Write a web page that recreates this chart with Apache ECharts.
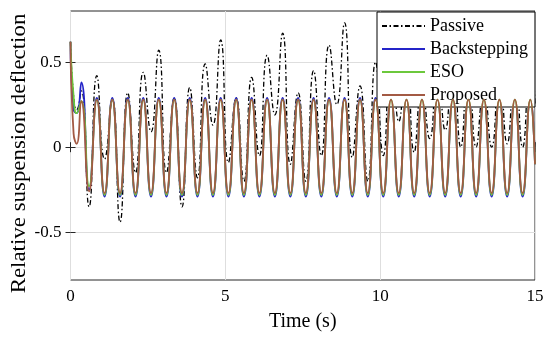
<!DOCTYPE html>
<html>
<head>
<meta charset="utf-8">
<script src="https://cdn.jsdelivr.net/npm/echarts@6/dist/echarts.min.js"></script>
<style>
html,body{margin:0;padding:0;background:#fff;}
#chart{width:550px;height:345px;}
</style>
</head>
<body>
<div id="chart"></div>
<script>
// time (s)
const time = [0, 0.1, 0.2,
  0.35, 0.6, 0.85, 1.1, 1.35, 1.6, 1.85, 2.1, 2.35, 2.6,
  2.85, 3.1, 3.35, 3.6, 3.85, 4.1, 4.35, 4.6, 4.85, 5.1,
  5.35, 5.6, 5.85, 6.1, 6.35, 6.6, 6.85, 7.1, 7.35, 7.6,
  7.85, 8.1, 8.35, 8.6, 8.85, 9.1, 9.35, 9.6, 9.85, 10.1,
  10.35, 10.6, 10.85, 11.1, 11.35, 11.6, 11.85, 12.1, 12.35, 12.6,
  12.85, 13.1, 13.35, 13.6, 13.85, 14.1, 14.35, 14.6, 14.85,
  15];
const passive = [0.62, 0.3, 0.22,
  0.33, -0.35, 0.42, -0.07, 0.28, -0.44, 0.32, -0.15, 0.44, 0.09,
  0.57, -0.15, 0.29, -0.35, 0.35, -0.18, 0.49, 0.13, 0.63, -0.09,
  0.29, -0.2, 0.41, -0.05, 0.54, 0.19, 0.67, -0.1, 0.32, -0.2,
  0.45, -0.05, 0.6, 0.25, 0.73, -0.06, 0.36, -0.2, 0.5, -0.05,
  0.58, 0.15, 0.66, -0.03, 0.36, 0.05, 0.48, 0.1, 0.55, 0.0,
  0.62, 0.0, 0.34, 0.0, 0.46, 0.02, 0.52, 0.0, 0.58,
  0.25];
const backstepping = [0.62, 0.22, 0.2,
  0.38, -0.25, 0.29, -0.29, 0.29, -0.29, 0.29, -0.29, 0.29, -0.29,
  0.29, -0.29, 0.29, -0.29, 0.29, -0.29, 0.29, -0.29, 0.29, -0.29,
  0.29, -0.29, 0.29, -0.29, 0.29, -0.29, 0.29, -0.29, 0.29, -0.29,
  0.29, -0.29, 0.29, -0.29, 0.29, -0.29, 0.29, -0.29, 0.29, -0.29,
  0.29, -0.29, 0.29, -0.29, 0.29, -0.29, 0.29, -0.29, 0.29, -0.29,
  0.29, -0.29, 0.29, -0.29, 0.29, -0.29, 0.29, -0.29, 0.29,
  -0.1];
const eso = [0.62, 0.3, 0.2,
  0.27, -0.23, 0.28, -0.28, 0.28, -0.28, 0.28, -0.28, 0.28, -0.28,
  0.28, -0.28, 0.28, -0.28, 0.28, -0.28, 0.28, -0.28, 0.28, -0.28,
  0.28, -0.28, 0.28, -0.28, 0.28, -0.28, 0.28, -0.28, 0.28, -0.28,
  0.28, -0.28, 0.28, -0.28, 0.28, -0.28, 0.28, -0.28, 0.28, -0.28,
  0.28, -0.28, 0.28, -0.28, 0.28, -0.28, 0.28, -0.28, 0.28, -0.28,
  0.28, -0.28, 0.28, -0.28, 0.28, -0.28, 0.28, -0.28, 0.28,
  -0.1];
const proposed = [0.62, 0.08, 0.02,
  0.27, -0.26, 0.28, -0.27, 0.28, -0.27, 0.28, -0.27, 0.28, -0.27,
  0.28, -0.27, 0.28, -0.27, 0.28, -0.27, 0.28, -0.27, 0.28, -0.27,
  0.28, -0.27, 0.28, -0.27, 0.28, -0.27, 0.28, -0.27, 0.28, -0.27,
  0.28, -0.27, 0.28, -0.27, 0.28, -0.27, 0.28, -0.27, 0.28, -0.27,
  0.28, -0.27, 0.28, -0.27, 0.28, -0.27, 0.28, -0.27, 0.28, -0.27,
  0.28, -0.27, 0.28, -0.27, 0.28, -0.27, 0.28, -0.27, 0.28,
  -0.1];
const seriesNames = ['Passive', 'Backstepping', 'ESO', 'Proposed'];
const yTicks = [-0.5, 0, 0.5];
const xTickStep = 5;
const yTitle = 'Relative suspension deflection';

const FONT = "'Liberation Serif', 'Times New Roman', serif";
const pairs = arr => time.map((t, i) => [t, arr[i]]);

const chart = echarts.init(document.getElementById('chart'), null, {renderer: 'canvas'});
const lineBase = {type: 'line', symbol: 'none', showSymbol: false, smooth: 0.55, animation: false, clip: true};
chart.setOption({
  animation: false,
  backgroundColor: '#fff',
  grid: {left: 70.5, right: 15, top: 11, bottom: 65, show: true, borderColor: '#262626', borderWidth: 1, backgroundColor: '#fff', outerBoundsMode: 'none', containLabel: false},
  graphic: [{
    type: 'text', x: 19.5, y: 153.5, rotation: Math.PI / 2, scaleX: 1.09, scaleY: 1,
    style: {text: yTitle, font: "21px 'Liberation Serif', 'Times New Roman', serif", fill: '#000', textAlign: 'center', textVerticalAlign: 'middle'}
  }],
  legend: {
    orient: 'vertical', left: 377, top: 12,
    itemWidth: 43, itemHeight: 10, itemGap: 5,
    padding: [5, 7, 3, 4],
    borderColor: '#000', borderWidth: 1, backgroundColor: '#fff',
    itemStyle: {opacity: 0},
    textStyle: {fontFamily: FONT, fontSize: 18, color: '#000'},
    data: seriesNames
  },
  xAxis: [{
    type: 'value', min: 0, max: 15, interval: xTickStep,
    name: 'Time (s)', nameLocation: 'middle', nameGap: 32,
    nameTextStyle: {fontFamily: FONT, fontSize: 20, color: '#000'},
    axisLine: {show: false},
    axisTick: {show: true, inside: true, length: 5, lineStyle: {color: '#262626'}},
    axisLabel: {fontFamily: FONT, fontSize: 17, color: '#000', margin: 8},
    splitLine: {show: true, lineStyle: {color: '#dedede', width: 1}}
  }, {
    type: 'value', min: 0, max: 15, interval: xTickStep, position: 'top',
    axisLine: {show: false}, axisLabel: {show: false}, splitLine: {show: false},
    axisTick: {show: true, inside: true, length: 5, lineStyle: {color: '#262626'}}
  }],
  yAxis: [{
    type: 'value', min: -0.78, max: 0.8,
    axisLine: {show: false},
    axisTick: {show: true, inside: true, length: 5, customValues: yTicks, lineStyle: {color: '#262626'}},
    axisLabel: {fontFamily: FONT, fontSize: 17, color: '#000', margin: 9, customValues: yTicks},
    splitLine: {show: true, lineStyle: {color: '#dedede', width: 1}}
  }, {
    type: 'value', min: -0.78, max: 0.8, position: 'right',
    axisLine: {show: false}, axisLabel: {show: false, customValues: yTicks}, splitLine: {show: false},
    axisTick: {show: true, inside: true, length: 5, customValues: yTicks, lineStyle: {color: '#262626'}}
  }],
  series: [
    Object.assign({}, lineBase, {name: seriesNames[0], data: pairs(passive), z: 2,
      lineStyle: {color: '#000', width: 1.3, type: [5, 2.5, 1.5, 2.5]}, itemStyle: {color: '#000'}}),
    Object.assign({}, lineBase, {name: seriesNames[1], data: pairs(backstepping), z: 3,
      lineStyle: {color: '#2424c8', width: 1.8}, itemStyle: {color: '#2424c8'}}),
    Object.assign({}, lineBase, {name: seriesNames[2], data: pairs(eso), z: 4,
      lineStyle: {color: '#6cc83c', width: 1.8}, itemStyle: {color: '#6cc83c'}}),
    Object.assign({}, lineBase, {name: seriesNames[3], data: pairs(proposed), z: 5,
      lineStyle: {color: '#a35a44', width: 1.8}, itemStyle: {color: '#a35a44'}})
  ]
});
</script>
</body>
</html>
